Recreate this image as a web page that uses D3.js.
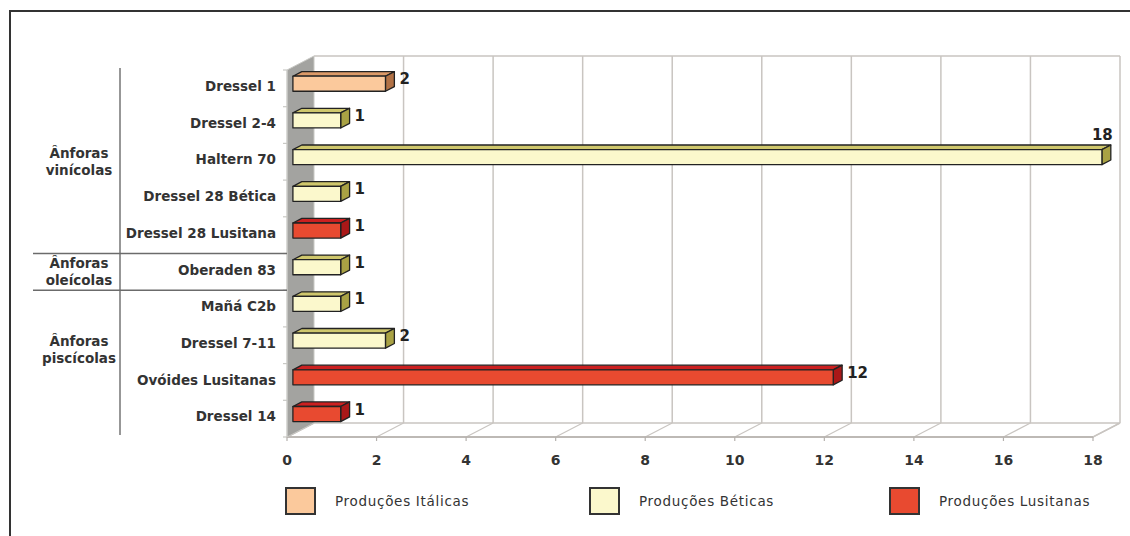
<!DOCTYPE html>
<html><head><meta charset="utf-8">
<script src="https://cdn.jsdelivr.net/npm/d3@7"></script>
<style>
html,body{margin:0;padding:0;background:#fff;}
svg{display:block;}
</style></head>
<body>
<svg id="chart" width="1130" height="536"></svg>
<script>
// ---- data ----
const categories = ["Dressel 1","Dressel 2-4","Haltern 70","Dressel 28 Bética","Dressel 28 Lusitana","Oberaden 83","Mañá C2b","Dressel 7-11","Ovóides Lusitanas","Dressel 14"];
const values = [2,1,18,1,1,1,1,2,12,1];
const production = ["Produções Itálicas","Produções Béticas","Produções Béticas","Produções Béticas","Produções Lusitanas","Produções Béticas","Produções Béticas","Produções Béticas","Produções Lusitanas","Produções Lusitanas"];
const seriesNames = ["Produções Itálicas","Produções Béticas","Produções Lusitanas"];
const groupNames = [["Ânforas","vinícolas"],["Ânforas","oleícolas"],["Ânforas","piscícolas"]];
const groupFirst = ["Dressel 1","Oberaden 83","Mañá C2b"];
const groupLast = ["Dressel 28 Lusitana","Oberaden 83","Dressel 14"];
const xTicks = [0,2,4,6,8,10,12,14,16,18];

// ---- styles ----
const colors = {
  "Produções Itálicas": {front:"#fbc99c", top:"#dc9a68", side:"#b27246"},
  "Produções Béticas":  {front:"#fbf8cc", top:"#cfc76c", side:"#a9a244"},
  "Produções Lusitanas":{front:"#e84a30", top:"#cc2020", side:"#aa1818"}
};
const groupNudge = [0, 0, -14];

const svg = d3.select("#chart");
const W = 1130, H = 536;

// frame
svg.append("path").attr("d", `M10,${H} L10,11 L${W},11`).attr("fill","none").attr("stroke","#333").attr("stroke-width",2);

const x = d3.scaleLinear().domain([0,18]).range([287,1093]);
const y = d3.scaleBand().domain(categories).range([70,437]);
const depth = {dx:27, dy:-14};
const bw = y.bandwidth();
const x0 = x(0), yTop = y.range()[0], yBot = y.range()[1];

const gridCol = "#c9c5c1";

// back wall
svg.append("rect").attr("x", x0+depth.dx).attr("y", yTop+depth.dy)
  .attr("width", x(18)-x0).attr("height", yBot-yTop).attr("fill","#fff");
svg.append("g").selectAll("line").data(xTicks.slice(1)).join("line")
  .attr("x1", d=>x(d)+depth.dx).attr("x2", d=>x(d)+depth.dx)
  .attr("y1", yTop+depth.dy).attr("y2", yBot+depth.dy)
  .attr("stroke", gridCol).attr("stroke-width",1.5);
svg.append("line").attr("x1", x0+depth.dx).attr("x2", x(18)+depth.dx)
  .attr("y1", yTop+depth.dy).attr("y2", yTop+depth.dy).attr("stroke", gridCol).attr("stroke-width",1.5);

// floor
svg.append("polygon").attr("points", [[x0,yBot],[x(18),yBot],[x(18)+depth.dx,yBot+depth.dy],[x0+depth.dx,yBot+depth.dy]].join(" "))
  .attr("fill","#fff").attr("stroke", gridCol).attr("stroke-width",1.5);
svg.append("g").selectAll("line").data(xTicks).join("line")
  .attr("x1", d=>x(d)).attr("x2", d=>x(d)+depth.dx)
  .attr("y1", yBot).attr("y2", yBot+depth.dy)
  .attr("stroke", gridCol).attr("stroke-width",1.2);
svg.append("line").attr("x1", x0).attr("x2", x(18)).attr("y1", yBot).attr("y2", yBot)
  .attr("stroke","#b5b1ad").attr("stroke-width",1.5);

// side wall (grey)
svg.append("polygon").attr("points", [[x0,yTop],[x0+depth.dx,yTop+depth.dy],[x0+depth.dx,yBot+depth.dy],[x0,yBot]].join(" "))
  .attr("fill","#a3a3a0").attr("stroke","#c8c8c4").attr("stroke-width",1);
svg.append("line").attr("x1",x0).attr("x2",x0).attr("y1",yTop).attr("y2",yBot).attr("stroke","#d0d0cc").attr("stroke-width",1);

// category ticks
svg.append("g").selectAll("line").data(d3.range(categories.length+1)).join("line")
  .attr("x1", x0-4).attr("x2", x0)
  .attr("y1", i=>yTop+i*bw).attr("y2", i=>yTop+i*bw)
  .attr("stroke","#c8c8c4").attr("stroke-width",1.2);
// x ticks
svg.append("g").selectAll("line").data(xTicks).join("line")
  .attr("x1", d=>x(d)).attr("x2", d=>x(d)).attr("y1", yBot).attr("y2", yBot+4)
  .attr("stroke","#b5b1ad").attr("stroke-width",1.2);
svg.append("g").selectAll("text").data(xTicks).join("text")
  .attr("x", d=>x(d)).attr("y", yBot+28).attr("text-anchor","middle")
  .attr("font-family","DejaVu Sans, sans-serif").attr("font-weight","bold").attr("font-size",14)
  .attr("fill","#333").text(d=>d);

// bars
const s1 = 0.33, s2 = 0.33;
const fdx = depth.dx*s1, fdy = depth.dy*s1;
const bdx = depth.dx*s2, bdy = depth.dy*s2;
const bh = bw*0.41;
const bars = svg.append("g");
categories.forEach((c,i)=>{
  const col = colors[production[i]];
  const left = x(0)+fdx-3, right = x(values[i])+fdx;
  const top = y(c)+(bw-bh)/2+fdy;
  const g = bars.append("g").attr("stroke","#222").attr("stroke-width",1.3).attr("stroke-linejoin","round");
  g.append("polygon").attr("points", [[left,top],[right,top],[right+bdx,top+bdy],[left+bdx,top+bdy]].join(" ")).attr("fill", col.top);
  g.append("polygon").attr("points", [[right,top],[right+bdx,top+bdy],[right+bdx,top+bdy+bh],[right,top+bh]].join(" ")).attr("fill", col.side);
  g.append("rect").attr("x",left).attr("y",top).attr("width",right-left).attr("height",bh).attr("fill",col.front);
  const lx = right+bdx+5;
  const t = svg.append("text").attr("font-family","DejaVu Sans, sans-serif").attr("font-weight","bold")
    .attr("font-size",15).attr("fill","#222").text(values[i]);
  if (lx + 20 > x(18)+depth.dx) {
    t.attr("x", right+bdx+2).attr("y", top+bdy-5).attr("text-anchor","end");
  } else {
    t.attr("x", lx).attr("y", top+8);
  }
});

// category labels
svg.append("g").selectAll("text").data(categories).join("text")
  .attr("x", 276).attr("y", d=>y(d)+bw/2-2).attr("dy","0.35em").attr("text-anchor","end")
  .attr("font-family","DejaVu Sans, sans-serif").attr("font-weight","bold").attr("font-size",13.5)
  .attr("fill","#333").text(d=>d);

// group structure
const gLine = "#6b6b6b";
svg.append("line").attr("x1",120).attr("x2",120).attr("y1",yTop-2).attr("y2",yBot-2).attr("stroke",gLine).attr("stroke-width",1.4);
groupFirst.slice(1).forEach(c=>{
  svg.append("line").attr("x1",33).attr("x2",x0).attr("y1",y(c)).attr("y2",y(c)).attr("stroke",gLine).attr("stroke-width",1.4);
});
groupNames.forEach((nm,i)=>{
  const cy = (y(groupFirst[i]) + y(groupLast[i]) + bw)/2 + groupNudge[i];
  const t = svg.append("text").attr("text-anchor","middle")
    .attr("font-family","DejaVu Sans, sans-serif").attr("font-weight","bold").attr("font-size",13.5).attr("fill","#333");
  nm.forEach((line,k)=>{
    t.append("tspan").attr("x",79).attr("y", cy + (k-0.5)*17).attr("dy","0.35em").text(line);
  });
});

// legend
const legX = [286, 590, 890];
seriesNames.forEach((s,i)=>{
  svg.append("rect").attr("x",legX[i]).attr("y",488).attr("width",29).attr("height",26)
    .attr("fill",colors[s].front).attr("stroke","#333").attr("stroke-width",2);
  svg.append("text").attr("x",legX[i]+49).attr("y",501).attr("dy","0.35em")
    .attr("font-family","DejaVu Sans, sans-serif").attr("font-size",13.5).attr("letter-spacing",0.7)
    .attr("fill","#333").text(s);
});
</script>
</body></html>
